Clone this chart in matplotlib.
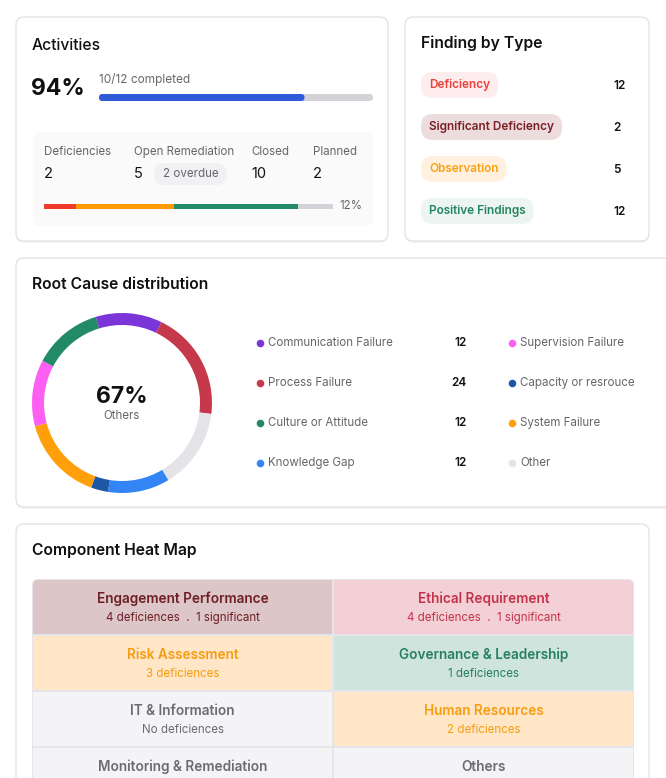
import matplotlib
matplotlib.use("Agg")
import matplotlib.pyplot as plt
from matplotlib.patches import FancyBboxPatch
import numpy as np

plt.rcParams['font.family'] = ['Inter', 'DejaVu Sans']

# ---------------- data ----------------
activity_pct = 94
completed, total_activities = 10, 12
completed_bar_share = 75          # blue share of the progress bar (%)

status_labels = ["Deficiencies", "Open Remediation", "Closed", "Planned"]
status_values = [2, 5, 10, 2]
overdue_count = 2
stack_share = [11, 34, 43, 12]    # red, orange, green, grey (%)
stack_colors = ["#ee3a2c", "#ff9a05", "#238a68", "#d3d2d6"]

finding_types = ["Deficiency", "Significant Deficiency", "Observation", "Positive Findings"]
finding_counts = [12, 2, 5, 12]
finding_text = ["#e8413a", "#7a1f26", "#f7a116", "#23855f"]
finding_fill = ["#fdedef", "#ecdcdd", "#fff1de", "#edf5f2"]

legend_left = ["Communication Failure", "Process Failure", "Culture or Attitude", "Knowledge Gap"]
legend_left_counts = [12, 24, 12, 12]
legend_left_colors = ["#7b35d8", "#c6394b", "#238a68", "#3385f6"]
legend_right = ["Supervision Failure", "Capacity or resrouce", "System Failure", "Other"]
legend_right_colors = ["#fd5ff2", "#1c58a6", "#ff9f0a", "#e4e3e7"]

# donut ring, clockwise from its start angle
ring_labels = ["Communication Failure", "Process Failure", "Other", "Knowledge Gap",
               "Capacity or resrouce", "System Failure", "Supervision Failure", "Culture or Attitude"]
ring_share = [43, 71, 52, 40, 11, 55, 43, 45]
ring_colors = ["#7b35d8", "#c6394b", "#e4e3e7", "#3385f6", "#1c58a6", "#ff9f0a", "#fd5ff2", "#238a68"]
center_pct = 67
center_label = "Others"

heat_titles = ["Engagement Performance", "Ethical Requirement",
               "Risk Assessment", "Governance & Leadership",
               "IT & Information", "Human Resources",
               "Monitoring & Remediation", "Others"]
heat_subs = ["4 deficiences  .  1 significant", "4 deficiences  .  1 significant",
             "3 deficiences", "1 deficiences",
             "No deficiences", "2 deficiences",
             "", ""]
heat_fill = ["#dcc6c7", "#f3d0d5", "#fee6c6", "#cfe4dc", "#f4f3f6", "#fee6c6", "#f4f3f6", "#f4f3f6"]
heat_text = ["#6e1f26", "#c3334b", "#f89c12", "#25805f", "#6b6b70", "#f89c12", "#6b6b70", "#6b6b70"]

# ---------------- figure ----------------
W, H = 666, 778
fig = plt.figure(figsize=(W / 100, H / 100), dpi=100)
fig.patch.set_facecolor("white")
ax = fig.add_axes([0, 0, 1, 1])
ax.set_xlim(0, W)
ax.set_ylim(H, 0)
ax.axis("off")

DARK = "#111114"
GREY = "#66666c"
TITLE = 11.3
SMALL = 8.3


def card(x0, y0, x1, y1, r=8, shadow=True, fc="white", ec="#e4e4e7", lw=1.0, z=1):
    if shadow:
        ax.add_patch(FancyBboxPatch((x0, y0 + 1.5), x1 - x0, y1 - y0,
                                    boxstyle=f"round,pad=0,rounding_size={r}",
                                    fc="#eeeef0", ec="none", zorder=z - 0.1))
    ax.add_patch(FancyBboxPatch((x0, y0), x1 - x0, y1 - y0,
                                boxstyle=f"round,pad=0,rounding_size={r}",
                                fc=fc, ec=ec, lw=lw, zorder=z))


# Cards
card(16, 17, 388, 241)
card(405, 17, 649, 241)
card(16, 258, 690, 507)
card(16, 524, 649, 800)

# ---------------- Activities ----------------
ax.text(32, 45, "Activities", fontsize=TITLE, fontweight="medium", color=DARK, va="center", zorder=5)
ax.text(31, 89, f"{activity_pct}%", fontsize=16.5, fontweight="bold", color=DARK, va="center", zorder=5)
ax.text(99, 79, f"{completed}/{total_activities} completed", fontsize=8.5, color=GREY, va="center", zorder=5)

bx0, bx1, by = 99, 373, 97.5
ax.add_patch(FancyBboxPatch((bx0, by - 3.5), bx1 - bx0, 7, boxstyle="round,pad=0,rounding_size=3.5",
                            fc="#d3d2d6", ec="none", zorder=3))
ax.add_patch(FancyBboxPatch((bx0, by - 3.5), (bx1 - bx0) * completed_bar_share / 100, 7,
                            boxstyle="round,pad=0,rounding_size=3.5", fc="#2f5bd9", ec="none", zorder=4))

# inner panel
ax.add_patch(FancyBboxPatch((33, 132), 340, 94, boxstyle="round,pad=0,rounding_size=6",
                            fc="#fafafb", ec="none", zorder=2))
status_x = [44, 134, 251, 313]
for lab, val, sx in zip(status_labels, status_values, status_x):
    ax.text(sx, 152, lab, fontsize=SMALL, color=GREY, va="center", zorder=5)
    ax.text(sx, 174, str(val), fontsize=10.5, color=DARK, va="center", zorder=5)
ax.add_patch(FancyBboxPatch((154, 163), 73, 22, boxstyle="round,pad=0,rounding_size=11",
                            fc="#f1f0f3", ec="none", zorder=3))
ax.text(190.5, 174, f"{overdue_count} overdue", fontsize=SMALL, color=GREY, va="center", ha="center", zorder=5)

sx0, sx1, sy = 44, 333, 206
scale = (sx1 - sx0) / sum(stack_share)
lefts = sx0 + np.concatenate([[0], np.cumsum(stack_share)[:-1]]) * scale
ax.barh([sy] * 4, np.array(stack_share) * scale, left=lefts, height=5, color=stack_colors, zorder=4)
ax.text(339, 206, f"{stack_share[-1]}%", fontsize=SMALL, color=GREY, va="center", zorder=5)

# ---------------- Finding by Type ----------------
ax.text(421, 43, "Finding by Type", fontsize=TITLE, fontweight="semibold", color=DARK, va="center", zorder=5)
pill_y = [85, 127, 169, 211]
pill_texts = []
for name, cnt, tc, py in zip(finding_types, finding_counts, finding_text, pill_y):
    t = ax.text(429, py, name, fontsize=8.5, fontweight="semibold", color=tc, va="center", zorder=6)
    pill_texts.append(t)
    ax.text(613, py + 1, str(cnt), fontsize=8.5, fontweight="semibold", color=DARK, va="center", zorder=6)
fig.canvas.draw()
renderer = fig.canvas.get_renderer()
inv = ax.transData.inverted()
for t, fc, py in zip(pill_texts, finding_fill, pill_y):
    bb = t.get_window_extent(renderer)
    (x0, _), (x1, _) = inv.transform([[bb.x0, bb.y0], [bb.x1, bb.y1]])
    ax.add_patch(FancyBboxPatch((421, py - 13), (x1 - 421) + 8, 26,
                                boxstyle="round,pad=0,rounding_size=12", fc=fc, ec="none", zorder=5))

# ---------------- Root cause ----------------
ax.text(32, 284, "Root Cause distribution", fontsize=TITLE, fontweight="semibold", color=DARK, va="center", zorder=5)
dax = fig.add_axes([32 / W, 1 - 493 / H, 180 / W, 180 / H])
dax.pie(ring_share, colors=ring_colors, startangle=107, counterclock=False, radius=1,
        wedgeprops=dict(width=12 / 90, linewidth=0))
dax.set_xlim(-1, 1)
dax.set_ylim(-1, 1)
dax.set_aspect("auto")
dax.axis("off")
ax.text(122, 397, f"{center_pct}%", fontsize=16.5, fontweight="bold", color=DARK, ha="center", va="center", zorder=5)
ax.text(122, 416, center_label, fontsize=SMALL, color=GREY, ha="center", va="center", zorder=5)

leg_y = [343, 383, 423, 463]
for lab, cnt, col, ly in zip(legend_left, legend_left_counts, legend_left_colors, leg_y):
    ax.scatter([260], [ly], s=30, color=col, zorder=5, linewidths=0)
    ax.text(268, ly, lab, fontsize=SMALL, color=GREY, va="center", zorder=5)
    ax.text(467, ly, str(cnt), fontsize=8.5, fontweight="semibold", color=DARK, va="center", ha="right", zorder=5)
for lab, col, ly in zip(legend_right, legend_right_colors, leg_y):
    ax.scatter([512], [ly], s=30, color=col, zorder=5, linewidths=0)
    ax.text(520, ly, lab, fontsize=SMALL, color=GREY, va="center", zorder=5)

# ---------------- Heat map ----------------
ax.text(32, 550, "Component Heat Map", fontsize=TITLE, fontweight="semibold", color=DARK, va="center", zorder=5)
gx0, gx1, gy0 = 32, 634, 579
row_h = 56
ncols = 2
col_w = (gx1 - gx0) / ncols
ax.add_patch(FancyBboxPatch((gx0, gy0), gx1 - gx0, 240, boxstyle="round,pad=0,rounding_size=6",
                            fc="#e6e5ea", ec="none", zorder=2))
for i, (title, sub, fc, tc) in enumerate(zip(heat_titles, heat_subs, heat_fill, heat_text)):
    r, c = divmod(i, ncols)
    x0 = gx0 + c * col_w + 1
    y0 = gy0 + r * row_h + 1
    w = col_w - 2
    h = row_h - 2
    if r == 0:
        ax.add_patch(FancyBboxPatch((x0, y0), w, h, boxstyle="round,pad=0,rounding_size=5",
                                    fc=fc, ec="none", zorder=3))
        ax.add_patch(plt.Rectangle((x0, y0 + 10), w, h - 10, fc=fc, ec="none", zorder=3))
        if c == 0:
            ax.add_patch(plt.Rectangle((x0 + w - 10, y0), 10, h, fc=fc, ec="none", zorder=3))
        else:
            ax.add_patch(plt.Rectangle((x0, y0), 10, h, fc=fc, ec="none", zorder=3))
    else:
        ax.add_patch(plt.Rectangle((x0, y0), w, h, fc=fc, ec="none", zorder=3))
    cx = x0 + w / 2
    ax.text(cx, y0 + 19, title, fontsize=9.8, fontweight="semibold", color=tc, ha="center", va="center", zorder=5)
    if sub:
        ax.text(cx, y0 + 38, sub, fontsize=SMALL, color=tc, ha="center", va="center", zorder=5)

fig.savefig("out.png", dpi=100, facecolor="white")
